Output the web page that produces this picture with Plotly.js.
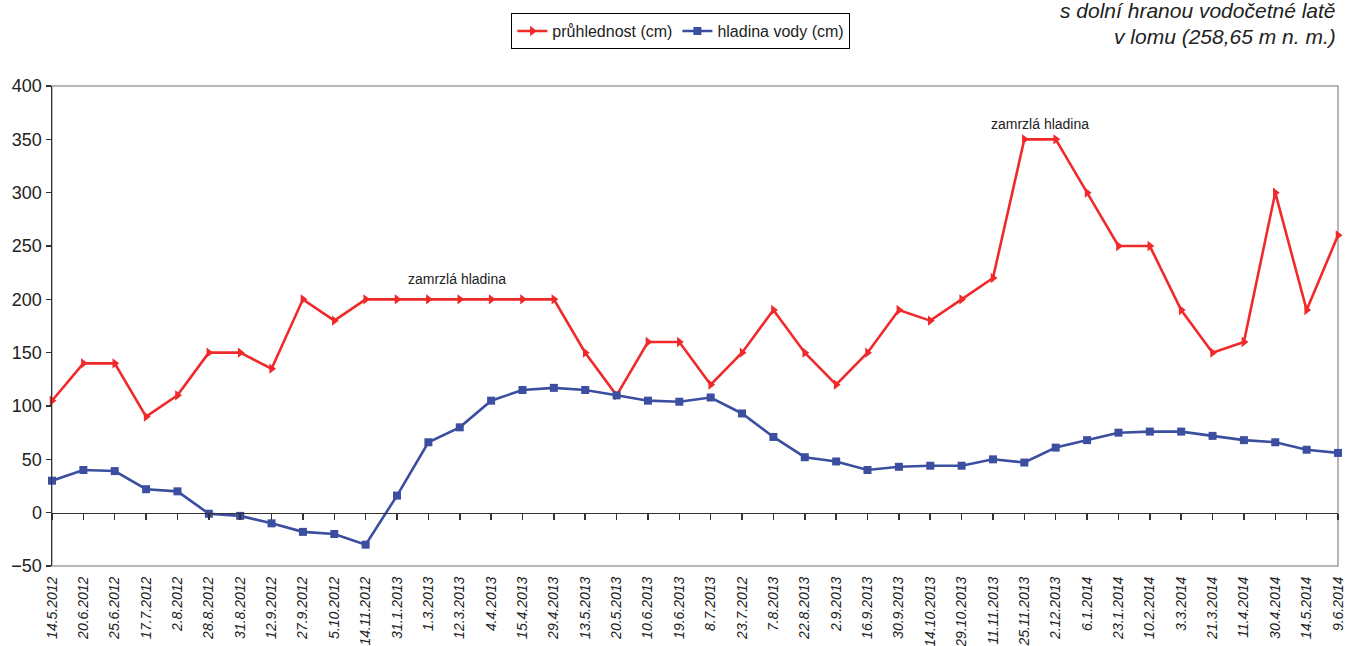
<!DOCTYPE html>
<html>
<head>
<meta charset="utf-8">
<script src="https://cdn.plot.ly/plotly-3.0.1.min.js"></script>
<style>html,body{margin:0;padding:0;background:#fff;}#chart{width:1354px;height:646px;}</style>
</head>
<body>
<div id="chart"></div>
<script>
const dates = ["14.5.2012","20.6.2012","25.6.2012","17.7.2012","2.8.2012","28.8.2012","31.8.2012","12.9.2012","27.9.2012","5.10.2012","14.11.2012","31.1.2013","1.3.2013","12.3.2013","4.4.2013","15.4.2013","29.4.2013","13.5.2013","20.5.2013","10.6.2013","19.6.2013","8.7.2013","23.7.2012","7.8.2013","22.8.2013","2.9.2013","16.9.2013","30.9.2013","14.10.2013","29.10.2013","11.11.2013","25.11.2013","2.12.2013","6.1.2014","23.1.2014","10.2.2014","3.3.2014","21.3.2014","11.4.2014","30.4.2014","14.5.2014","9.6.2014"];
const pruhlednost = [105,140,140,90,110,150,150,135,200,180,200,200,200,200,200,200,200,150,110,160,160,120,150,190,150,120,150,190,180,200,220,350,350,300,250,250,190,150,160,300,190,260];
const hladina = [30,40,39,22,20,-1,-3,-10,-18,-20,-30,16,66,80,105,115,117,115,110,105,104,108,93,71,52,48,40,43,44,44,50,47,61,68,75,76,76,72,68,66,59,56];
const seriesNames = ["průhlednost (cm)","hladina vody (cm)"];
const yTicks = [-50,0,50,100,150,200,250,300,350,400];

const RED = "#f02a2a", BLUE = "#3c4ea0", AX = "#333333", FR = "#a0a0a0";
const n = dates.length;

const traces = [
  {x: dates, y: pruhlednost, name: seriesNames[0], type: "scatter", mode: "lines+markers",
   xaxis: "x", yaxis: "y", cliponaxis: false,
   line: {color: RED, width: 2.6}, marker: {symbol: "triangle-right", size: 9, color: RED}},
  {x: dates, y: hladina, name: seriesNames[1], type: "scatter", mode: "lines+markers",
   xaxis: "x2", yaxis: "y", cliponaxis: false,
   line: {color: BLUE, width: 2.6}, marker: {symbol: "square", size: 8, color: BLUE}}
];

const font = "Liberation Sans, Arial, sans-serif";
const layout = {
  width: 1354, height: 646,
  margin: {l: 52, r: 16, t: 86, b: 80, pad: 0},
  paper_bgcolor: "#fff", plot_bgcolor: "#fff",
  showlegend: true,
  legend: {orientation: "h", x: 0.489, xanchor: "center", y: 1.152, yanchor: "top",
    bordercolor: "#000", borderwidth: 1, font: {family: font, size: 16, color: "#222"},
    itemwidth: 30, tracegroupgap: 0},
  font: {family: font, color: "#222"},
  xaxis: {type: "category", categoryorder: "array", categoryarray: dates, range: [0, n - 1],
    showgrid: false, zeroline: false, showline: false, ticks: "outside", ticklen: 4, tickcolor: "rgba(0,0,0,0)",
    tickangle: -90, tickfont: {family: font, size: 14, color: "#222", style: "italic"}, automargin: false},
  xaxis2: {type: "category", categoryorder: "array", categoryarray: dates, range: [0, n - 1],
    overlaying: "x", anchor: "free", position: 50 / 450,
    showgrid: false, zeroline: false, showline: true, linecolor: AX, linewidth: 1.5,
    ticks: "outside", ticklen: 6, tickwidth: 1.5, tickcolor: AX, showticklabels: false},
  yaxis: {range: [-50, 400], tickvals: yTicks, showgrid: false, zeroline: false,
    showline: true, linecolor: AX, linewidth: 1.5, ticks: "outside", ticklen: 5,
    tickwidth: 1.5, tickcolor: AX, tickfont: {family: font, size: 18, color: "#222"}, automargin: false},
  shapes: [{type: "rect", xref: "paper", yref: "paper", x0: 0, x1: 1, y0: 0, y1: 1,
    line: {color: FR, width: 1.5}, layer: "below"}],
  annotations: [
    {x: 12.92, y: 219, xref: "x", yref: "y", text: "zamrzlá hladina", showarrow: false,
     font: {family: font, size: 14, color: "#222"}},
    {x: 31.5, y: 364, xref: "x", yref: "y", text: "zamrzlá hladina", showarrow: false,
     font: {family: font, size: 14, color: "#222"}},
    {x: 1, y: 1.158, xref: "paper", yref: "paper", xanchor: "right", yanchor: "middle",
     text: "<i>s dolní hranou vodočetné latě</i>", showarrow: false,
     font: {family: font, size: 21, color: "#222"}},
    {x: 1, y: 1.104, xref: "paper", yref: "paper", xanchor: "right", yanchor: "middle",
     text: "<i>v lomu (258,65 m n. m.)</i>", showarrow: false,
     font: {family: font, size: 21, color: "#222"}}
  ]
};

Plotly.newPlot("chart", traces, layout, {displayModeBar: false, staticPlot: true});
</script>
</body>
</html>
